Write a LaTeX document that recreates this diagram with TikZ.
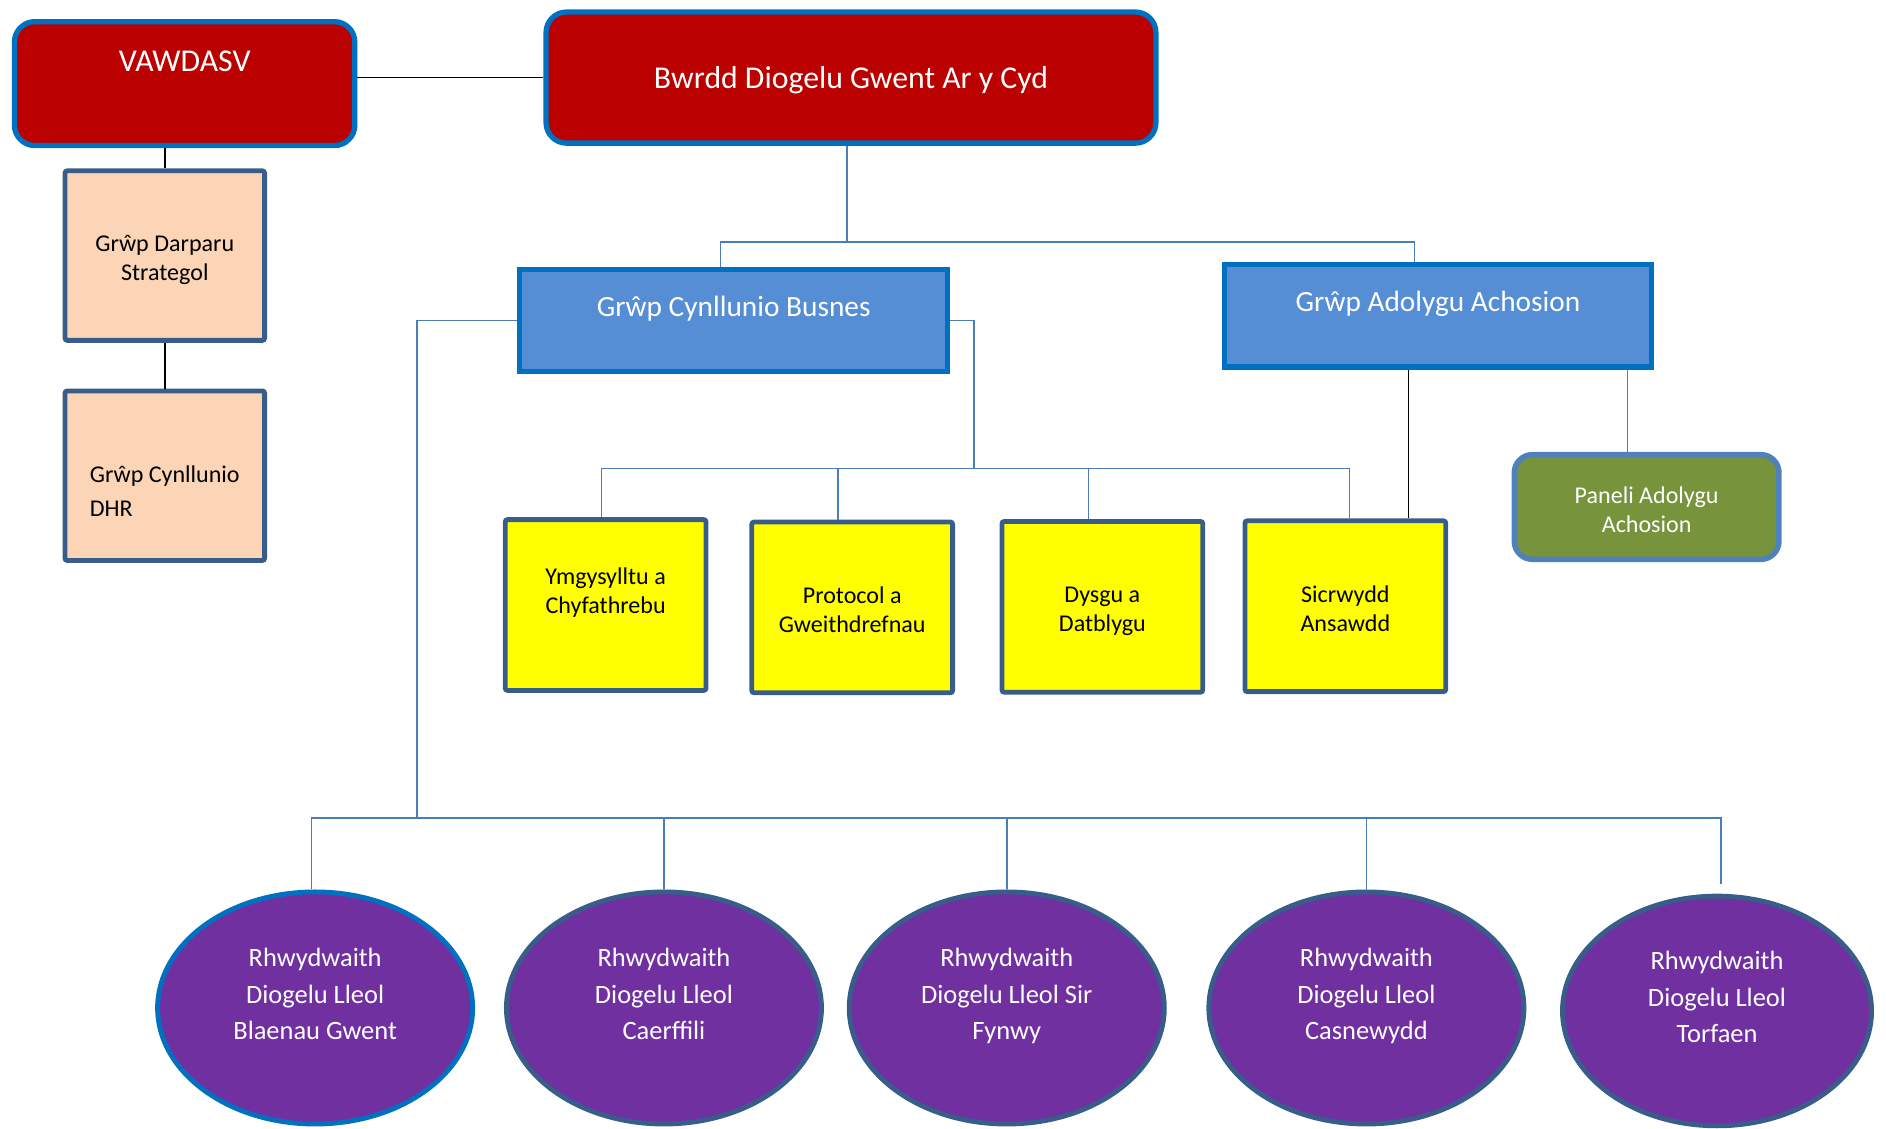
\documentclass[tikz,border=0pt]{standalone}
\usepackage{fontspec}
\setmainfont{Carlito}
\usepackage{xcolor}
\usepackage{tikz}
\usetikzlibrary{shapes.geometric, positioning, calc}
\definecolor{boardred}{HTML}{BB0000}
\definecolor{edgeblue}{HTML}{0070C0}
\definecolor{groupblue}{HTML}{558ED5}
\definecolor{peach}{HTML}{FBD5B5}
\definecolor{slate}{HTML}{385D8A}
\definecolor{olive}{HTML}{77933C}
\definecolor{panelrim}{HTML}{4F81BD}
\definecolor{netpurple}{HTML}{7030A0}
\definecolor{linkblue}{HTML}{4A7EBB}
\definecolor{taskyellow}{HTML}{FFFF00}
% lines of a box, lifted by #1
\newcommand{\boxlines}[3][0pt]{\raisebox{#1}[\height][\depth]{\begin{tabular}{@{}#2@{}}#3\end{tabular}}}
\tikzset{
	board/.style={rectangle, draw=edgeblue, fill=boardred, line width=2.2pt, rounded corners=8.5pt, text=white, inner sep=0pt},
	group/.style={rectangle, draw=edgeblue, fill=groupblue, line width=2.2pt, text=white, inner sep=0pt, minimum width=178pt, minimum height=42.5pt, font=\fontsize{12.2}{15}\selectfont},
	peachbox/.style={rectangle, draw=slate, fill=peach, line width=2pt, rounded corners=1pt, inner sep=0pt, minimum width=83pt, minimum height=70.5pt, font=\fontsize{10}{12}\selectfont},
	taskbox/.style={rectangle, draw=slate, fill=taskyellow, line width=2pt, rounded corners=1pt, inner sep=0pt, minimum width=83.5pt, minimum height=71pt, font=\fontsize{10}{12}\selectfont},
	panel/.style={rectangle, draw=panelrim, fill=olive, line width=2.3pt, rounded corners=7.5pt, text=white, inner sep=0pt, minimum width=110pt, minimum height=43.5pt, font=\fontsize{10}{12}\selectfont},
	network/.style={ellipse, draw=slate, fill=netpurple, line width=2pt, text=white, inner sep=0pt, minimum width=131pt, minimum height=96.5pt, font=\fontsize{11}{15.25}\selectfont},
	link/.style={draw=linkblue, line width=0.75pt},
	darklink/.style={draw=black, line width=0.75pt}
}

\begin{document}
\begin{tikzpicture}[x=0.5pt, y=-0.5pt]
	\useasboundingbox (0,0) rectangle (1568,938);

	% Boards at the top
	\node[board, minimum width=141.5pt, minimum height=51.5pt, font=\fontsize{13.2}{16}\selectfont] (vawdasv) at (153.5,69.5) {\boxlines[8.25pt]{c}{VAWDASV}};
	\node[board, minimum width=253.5pt, minimum height=54.5pt, font=\fontsize{13.2}{16}\selectfont] (bwrdd) at (707.5,64.5) {\boxlines[-1.5pt]{c}{Bwrdd Diogelu Gwent Ar y Cyd}};

	% Groups under VAWDASV
	\node[peachbox] (darparu) at (137,212.5) {\boxlines[-2pt]{c}{Grŵp Darparu\\Strategol}};
	\node[peachbox, below=19pt of darparu, font=\fontsize{10}{14.5}\selectfont] (dhr) {\boxlines[-7pt]{l}{Grŵp Cynllunio\\DHR}};

	% Groups under the board
	\node[group] (busnes) at (610,266.5) {\boxlines[4.75pt]{c}{Grŵp Cynllunio Busnes}};
	\node[group, minimum width=177.5pt] (adolygu) at (1195.5,262.5) {\boxlines[4.75pt]{c}{Grŵp Adolygu Achosion}};

	% Sub-groups
	\node[taskbox] (ymg) at (503.5,503) {\boxlines[4.75pt]{c}{Ymgysylltu a\\Chyfathrebu}};
	\node[taskbox] (prot) at (708.5,505) {\boxlines[-2pt]{c}{Protocol a\\Gweithdrefnau}};
	\node[taskbox] (dysgu) at (916.5,504.5) {\boxlines[-2pt]{c}{Dysgu a\\Datblygu}};
	\node[taskbox] (sic) at (1118.5,504) {\boxlines[-2pt]{c}{Sicrwydd\\Ansawdd}};
	\node[panel] (paneli) at (1369,421.5) {\boxlines[-2pt]{c}{Paneli Adolygu\\Achosion}};

	% Local networks
	\node[network, draw=edgeblue] (rdBlaenau) at (262,838) {\boxlines[5pt]{c}{Rhwydwaith\\Diogelu Lleol\\Blaenau Gwent}};
	\node[network] (rdCaerffili) at (552,838) {\boxlines[5pt]{c}{Rhwydwaith\\Diogelu Lleol\\Caerffili}};
	\node[network] (rdMynwy) at (837,838) {\boxlines[5pt]{c}{Rhwydwaith\\Diogelu Lleol Sir\\Fynwy}};
	\node[network] (rdCasnewydd) at (1136,838) {\boxlines[5pt]{c}{Rhwydwaith\\Diogelu Lleol\\Casnewydd}};
	\node[network, minimum width=128.5pt, minimum height=95.5pt] (rdTorfaen) at (1427.5,840.5) {\boxlines[5pt]{c}{Rhwydwaith\\Diogelu Lleol\\Torfaen}};

	% Joints of the connectors
	\coordinate (jBoard) at (704,201);
	\coordinate (jTask) at (810,389.5);
	\coordinate (jNet) at (347,680);

	% Black lines
	\draw[darklink] (bwrdd.west) -- (bwrdd.west -| vawdasv.east);
	\draw[darklink] (vawdasv.south -| darparu.north) -- (darparu.north);
	\draw[darklink] (darparu) -- (dhr);
	\draw[darklink] ([xshift=26.25pt]sic.north) -- ([xshift=26.25pt]sic.north |- adolygu.south);

	% Blue lines
	\draw[link] (bwrdd.south -| jBoard) -- (jBoard);
	\draw[link] ([xshift=-5.5pt]busnes.north) |- (jBoard) -| ([xshift=-9.75pt]adolygu.north);
	\draw[link] (busnes.east) -| (jTask);
	\draw[link] ([xshift=-1.75pt]ymg.north) |- (jTask) -| ([xshift=1.75pt]sic.north);
	\foreach \t in {prot, dysgu}
		\draw[link] ([xshift=-5.75pt]\t.north) -- ([xshift=-5.75pt]\t.north |- jTask);
	\draw[link] ([xshift=-8pt]paneli.north) -- ([xshift=-8pt]paneli.north |- adolygu.south);
	\draw[link] (busnes.west) -| (jNet);
	\draw[link] ([xshift=-1.5pt]rdBlaenau.north) |- (jNet) -| ([xshift=1.75pt, yshift=4pt]rdTorfaen.north);
	\foreach \r in {rdCaerffili, rdMynwy, rdCasnewydd}
		\draw[link] (\r.north) -- (\r.north |- jNet);
\end{tikzpicture}
\end{document}
